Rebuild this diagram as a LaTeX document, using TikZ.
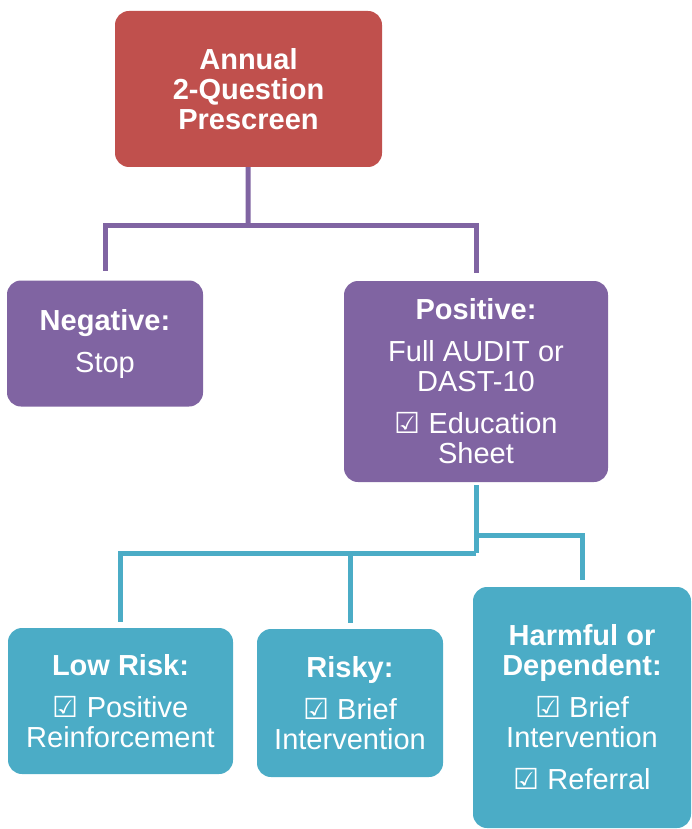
\documentclass[tikz,border=0pt]{standalone}
\usepackage{fontspec}
\setmainfont{Liberation Sans}
\newfontfamily\symfont{DejaVu Sans}
\usepackage{tikz}
\newcommand{\tick}{{\symfont ☑}}
\definecolor{redbox}{HTML}{C0504D}
\definecolor{violetbox}{HTML}{8064A2}
\definecolor{tealbox}{HTML}{4BACC6}
\tikzset{
	box/.style={rounded corners=14pt, text=white, align=center, inner sep=0pt,
		font=\fontsize{29}{30}\selectfont},
	redstep/.style={box, fill=redbox},
	violetstep/.style={box, fill=violetbox},
	tealstep/.style={box, fill=tealbox},
	violetlink/.style={draw=violetbox, line width=5pt},
	teallink/.style={draw=tealbox, line width=5pt}
}

\begin{document}
\begin{tikzpicture}[x=1pt,y=-1pt]
	\useasboundingbox (0,0) rectangle (691,829);
	\node[redstep, minimum width=267pt, minimum height=156pt] at (248.5,89) (prescreen) {\textbf{Annual}\\\textbf{2-Question}\\\textbf{Prescreen}};
	\node[violetstep, minimum width=196pt, minimum height=126pt] at (105,343.5) (negative) {\textbf{Negative:}\\[12pt]Stop};
	\node[violetstep, minimum width=264pt, minimum height=201pt] at (476,381.5) (positive) {\textbf{Positive:}\\[12pt]Full AUDIT or\\DAST-10\\[12pt]\tick{} Education\\Sheet};
	\node[tealstep, minimum width=225pt, minimum height=146pt] at (120.5,701) (lowrisk) {\textbf{Low Risk:}\\[12pt]\tick{} Positive\\Reinforcement};
	\node[tealstep, minimum width=186pt, minimum height=148pt] at (350,703) (risky) {\textbf{Risky:}\\[12pt]\tick{} Brief\\Intervention};
	\node[tealstep, minimum width=218pt, minimum height=241pt] at (582,707.5) (harmful) {\textbf{Harmful or}\\\textbf{Dependent:}\\[12pt]\tick{} Brief\\Intervention\\[12pt]\tick{} Referral};
	% junctions
	\coordinate (split1) at (248,225);
	\coordinate (split2) at (476,553);
	\coordinate (split3) at (476,535);
	\path[violetlink] (prescreen) -- (split1);
	\path[violetlink, shorten >=9pt] (split1) -| (negative);
	\path[violetlink, shorten >=8pt] (split1) -| (positive);
	\path[teallink, shorten <=3pt] (positive) -- (split2);
	\path[teallink, shorten >=6pt] (split2) -| (lowrisk);
	\path[teallink, shorten >=6pt] (split2) -| (risky);
	\path[teallink, shorten >=7pt] (split3) -| (harmful);
\end{tikzpicture}
\end{document}
